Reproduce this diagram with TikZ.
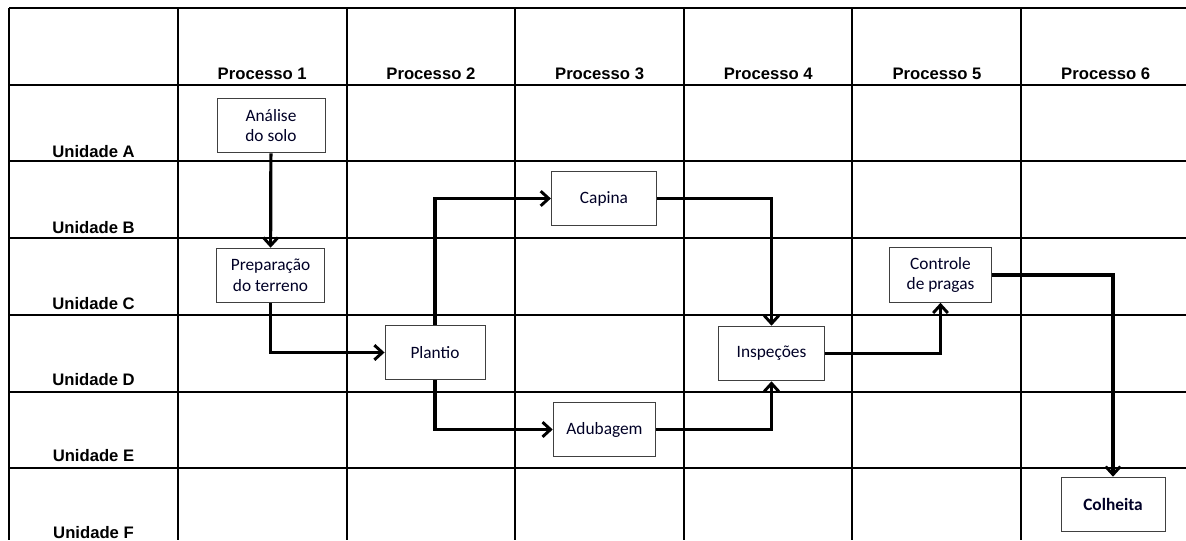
\documentclass[tikz,border=0pt]{standalone}
\usepackage{fontspec}
\newfontfamily\headfont{Liberation Sans}
\newfontfamily\boxfont{Carlito}
\usetikzlibrary{arrows.meta}

\tikzset{
	head/.style={anchor=base, font=\headfont\bfseries\fontsize{12.5}{15}\selectfont},
	etapa/.style={draw=black!75, line width=0.7pt, fill=white, align=center,
		minimum width=78pt, minimum height=41pt, inner sep=2pt,
		font=\boxfont\fontsize{13}{15.5}\selectfont, text=black!85!blue},
	fluxo/.style={line width=2.4pt, line join=miter, -{Straight Barb[length=6pt,width=11pt,line width=2.2pt]}}
}

\begin{document}
\begin{tikzpicture}[x=0.75pt, y=-0.75pt]
		\useasboundingbox (0,0) rectangle (1186,540);
		% grade
		\draw[line width=1.5pt] (9,8) -- (1186,8);
		\foreach \y in {85,161,238,315,392,468}
			\draw[line width=1.5pt] (9,\y) -- (1186,\y);
		\foreach \x in {9,178,347,515,684,852,1021}
			\draw[line width=1.5pt] (\x,8) -- (\x,540);
		% cabecalhos
		\foreach \n [evaluate=\n as \cx using 93.5+168.7*\n] in {1,...,6}
			\node[head] (p\n) at (\cx,79) {Processo \n};
		\foreach \l [count=\i from 0] in {A,B,C,D,E,F}
			\node[head] (u\l) at (93.5,157+76.2*\i) {Unidade \l};
		% etapas
		\node[etapa, minimum width=81pt] (analise) at (271,125.5) {Análise\\do solo};
		\node[etapa, minimum width=81pt] (preparo) at (270.5,275.5) {Preparação\\do terreno};
		\node[etapa, minimum width=75pt] (plantio) at (435,352.5) {Plantio};
		\node[etapa, minimum width=79pt] (capina) at (604,198.5) {Capina};
		\node[etapa, minimum width=77pt] (adubagem) at (604.5,429.5) {Adubagem};
		\node[etapa, minimum width=79pt] (inspecoes) at (771.5,353.5) {Inspeções};
		\node[etapa, minimum width=77pt] (controle) at (940.5,275) {Controle\\de pragas};
		\node[etapa, minimum width=78pt, font=\boxfont\bfseries\fontsize{13}{15.5}\selectfont] (colheita) at (1113,504.5) {Colheita};
		% fluxo
		\draw[fluxo] (analise) -- (preparo);
		\draw[fluxo] (preparo.south) |- (plantio.west);
		\draw[fluxo] (plantio.north) |- (capina.west);
		\draw[fluxo] (plantio.south) |- (adubagem.west);
		\draw[fluxo] (capina.east) -| (inspecoes.north);
		\draw[fluxo] (adubagem.east) -| (inspecoes.south);
		\draw[fluxo] (inspecoes.east) -| (controle.south);
		\draw[fluxo] (controle.east) -| (colheita.north);
	\end{tikzpicture}
\end{document}
